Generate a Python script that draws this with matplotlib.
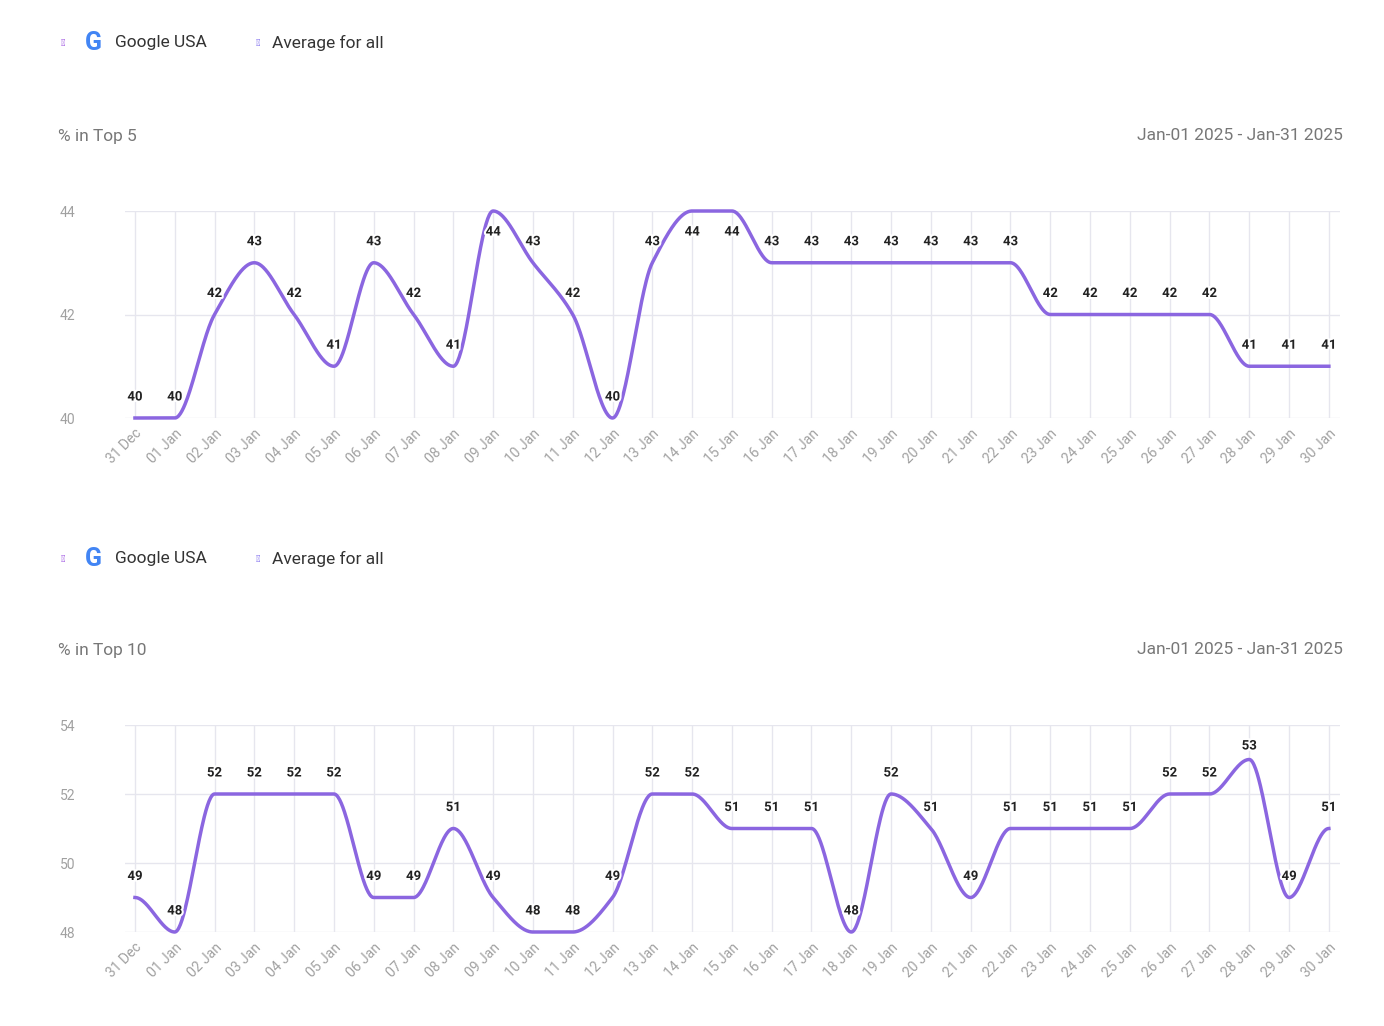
import numpy as np
import matplotlib
matplotlib.use("Agg")
import matplotlib.pyplot as plt
import matplotlib.patheffects as pe

plt.rcParams["font.family"] = "Roboto"

dates = ["31 Dec"] + [f"{d:02d} Jan" for d in range(1, 31)]
top5 = [40,40,42,43,42,41,43,42,41,44,43,42,40,43,44,44,43,43,43,43,43,43,43,42,42,42,42,42,41,41,41]
top10 = [49,48,52,52,52,52,49,49,51,49,48,48,49,52,52,51,51,51,48,52,51,49,51,51,51,51,52,52,53,49,51]

PURPLE = "#8B66E0"
GRID = "#E6E6EE"
TXT = "#777777"

def pchip(x, y, xs):
    x = np.asarray(x, float); y = np.asarray(y, float)
    h = np.diff(x); d = np.diff(y) / h
    n = len(x); m = np.zeros(n)
    for k in range(1, n - 1):
        if d[k-1] * d[k] > 0:
            w1 = 2*h[k] + h[k-1]; w2 = h[k] + 2*h[k-1]
            m[k] = (w1 + w2) / (w1/d[k-1] + w2/d[k])
    m[0] = d[0] if d[0]*d[min(1,n-2)] > 0 else 0
    m[-1] = d[-1] if d[-1]*d[-2] > 0 else 0
    out = np.empty_like(xs)
    for i, xv in enumerate(xs):
        k = min(max(np.searchsorted(x, xv) - 1, 0), n - 2)
        t = (xv - x[k]) / h[k]
        h00 = 2*t**3 - 3*t**2 + 1; h10 = t**3 - 2*t**2 + t
        h01 = -2*t**3 + 3*t**2; h11 = t**3 - t**2
        out[i] = h00*y[k] + h10*h[k]*m[k] + h01*y[k+1] + h11*h[k]*m[k+1]
    return out

fig = plt.figure(figsize=(13.84, 10.26), dpi=100)

def legend(ytop):
    fy = 1 - ytop/1026
    fig.text(63/1384, fy, "●", color="#9B4FE0", fontsize=7, va="center", ha="center")
    fig.text(93/1384, fy, "G", color="#4285F4", fontsize=18, fontweight="bold", va="center", ha="center")
    fig.text(115/1384, fy, "Google USA", color="#333333", fontsize=12.5, va="center")
    fig.text(258/1384, fy, "●", color="#7B68EE", fontsize=7, va="center", ha="center")
    fig.text(272/1384, fy, "Average for all", color="#333333", fontsize=12.5, va="center")

def panel(ax_bottom_px, ax_top_px, vals, ylo, yhi, ticks, title, legend_y, title_y):
    legend(legend_y)
    fig.text(58/1384, 1 - title_y/1026, title, color=TXT, fontsize=12.5, va="center")
    fig.text(1343/1384, 1 - title_y/1026, "Jan-01 2025 - Jan-31 2025", color=TXT, fontsize=12.5, va="center", ha="right")
    hpx = ax_bottom_px - ax_top_px
    ax = fig.add_axes([125/1384, 1 - ax_bottom_px/1026, 1215/1384, hpx/1026])
    x = np.arange(len(vals))
    xs = np.linspace(0, len(vals) - 1, 1500)
    ax.plot(xs, pchip(x, vals, xs), color=PURPLE, lw=2.5, clip_on=False, zorder=3)
    off = (yhi - ylo) * 21 / hpx
    for xi, v in zip(x, vals):
        ly = min(v + off, yhi - off)
        ax.text(xi, ly, str(v), ha="center", va="center", fontsize=9.5,
                fontweight="bold", color="#222222", zorder=4,
                path_effects=[pe.withStroke(linewidth=3, foreground="white")])
    ax.set_xlim(-0.25, 30.28)
    ax.set_ylim(ylo, yhi)
    ax.set_yticks(ticks)
    ax.set_xticks(x)
    ax.set_xticklabels(dates, rotation=45, ha="right", rotation_mode="anchor", fontsize=10, color="#A0A0A0")
    ax.tick_params(axis="y", labelsize=10, labelcolor="#A0A0A0", length=0, pad=47)
    ax.tick_params(axis="x", length=0, pad=6)
    ax.grid(True, color=GRID, lw=1)
    ax.set_axisbelow(True)
    for s in ax.spines.values():
        s.set_visible(False)
    for lab in ax.get_yticklabels():
        lab.set_horizontalalignment("left")

panel(418, 211, top5, 40, 44, [40, 42, 44], "% in Top 5", 43, 136)
panel(932, 725, top10, 48, 54, [48, 50, 52, 54], "% in Top 10", 559, 650)

fig.savefig("out.png", dpi=100, facecolor="white")
